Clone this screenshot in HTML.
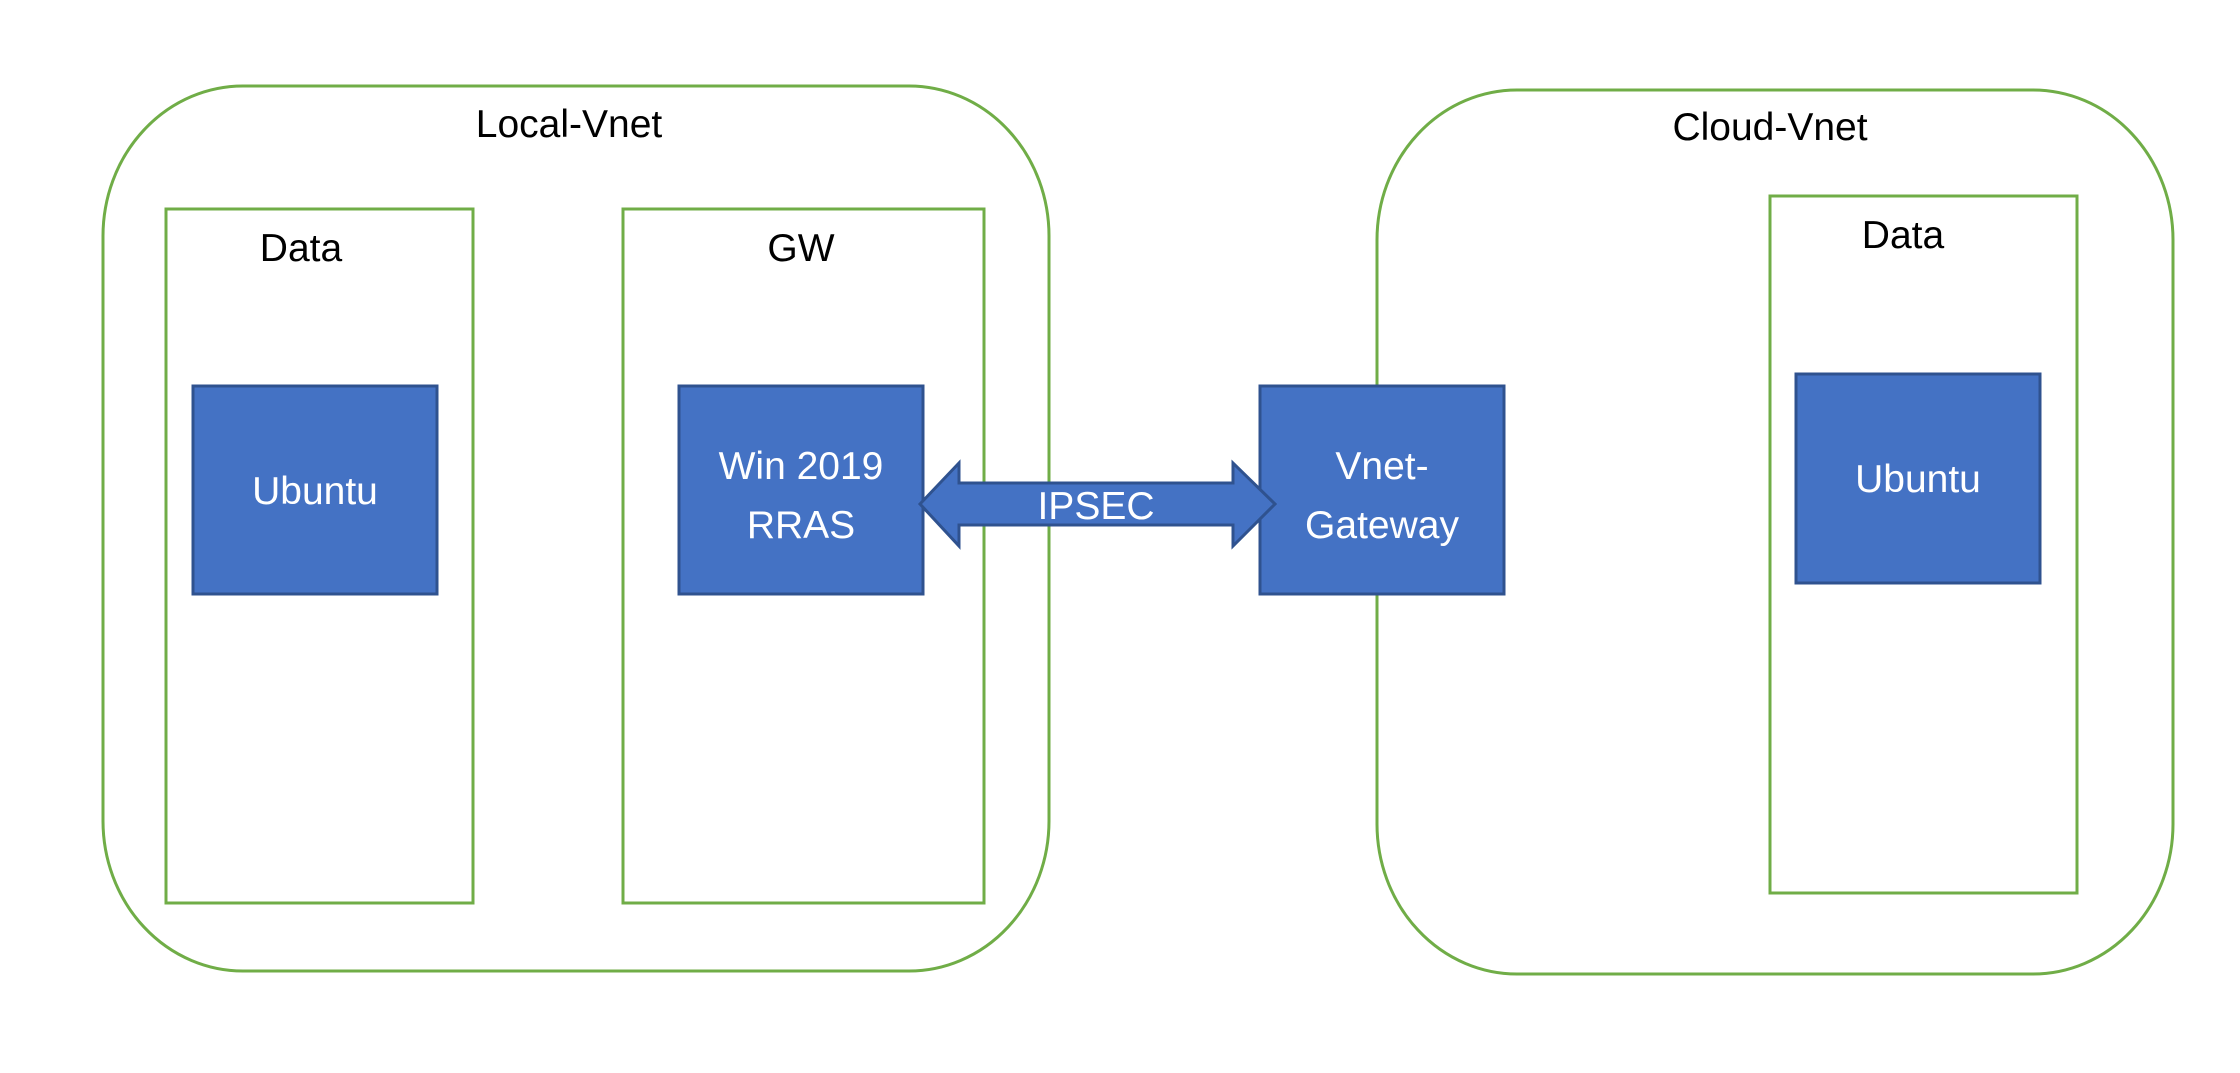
<!DOCTYPE html>
<html><head><meta charset="utf-8"><style>
html,body{margin:0;padding:0;background:#fff;}
body{width:2240px;height:1068px;position:relative;overflow:hidden;font-family:"Liberation Sans",sans-serif;}
</style></head><body>
<svg width="2240" height="1068" viewBox="0 0 2240 1068" xmlns="http://www.w3.org/2000/svg" font-family="Liberation Sans, sans-serif">
<g fill="none" stroke="#70AD47" stroke-width="3">
<rect x="103" y="86" width="946" height="885" rx="140" ry="150"/>
<rect x="166" y="209" width="307" height="694"/>
<rect x="623" y="209" width="361" height="694"/>
<rect x="1377" y="90" width="796" height="884" rx="140" ry="150"/>
<rect x="1770" y="196" width="307" height="697"/>
</g>
<g fill="#4472C4" stroke="#2F528F" stroke-width="3">
<rect x="193" y="386" width="244" height="208"/>
<rect x="679" y="386" width="244" height="208"/>
<rect x="1260" y="386" width="244" height="208"/>
<rect x="1796" y="374" width="244" height="209"/>
<polygon points="920,504 959,463 959,483 1233,483 1233,463 1275,504 1233,546 1233,525 959,525 959,546"/>
</g>
<g font-size="39" text-anchor="middle" fill="#000">
<text x="569" y="137">Local-Vnet</text>
<text x="1770" y="140">Cloud-Vnet</text>
<text x="301" y="261">Data</text>
<text x="801" y="261">GW</text>
<text x="1903" y="248">Data</text>
</g>
<g font-size="39" text-anchor="middle" fill="#fff">
<text x="315" y="504">Ubuntu</text>
<text x="801" y="479">Win 2019</text>
<text x="801" y="538">RRAS</text>
<text x="1382" y="479">Vnet-</text>
<text x="1382" y="538">Gateway</text>
<text x="1918" y="492">Ubuntu</text>
<text x="1096" y="519">IPSEC</text>
</g>
</svg>
</body></html>
